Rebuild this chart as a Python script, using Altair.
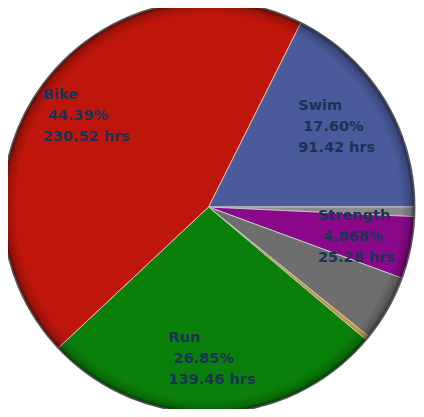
import math
import altair as alt
import pandas as pd

# slices, clockwise starting at Swim
activities = ["Swim", "Other", "Strength", "Brick", "Yoga", "Run", "Bike"]
hours = [91.42, 3.90, 25.28, 27.00, 1.77, 139.46, 230.52]
percents = [17.60, 0.75, 4.868, 5.20, 0.34, 26.85, 44.39]
colors = ["#4b5a9b", "#8a8a8a", "#8b088b", "#6e6e6e", "#c8963c", "#0a800a", "#bf160b"]
labelled = [True, False, True, False, False, True, True]

df = pd.DataFrame({
    "activity": activities,
    "hours": hours,
    "pct": percents,
    "labelled": labelled,
    "idx": range(len(activities)),
})
# zero-width space keeps vega from trimming the indent of the % line
df["label"] = [f"{a}\n\u200b\u00a0{p:#.4g}%\n{h:.2f} hrs" for a, p, h in zip(activities, percents, hours)]
df["hrs_len"] = [len(f"{h:.2f} hrs") for h in hours]

CX, CY, R = 200.5, 199, 206   # pie centre / radius inside the plot area
LR = 152                      # label radius
LH = 21                       # label line height
START = math.radians(26.6)    # where Swim starts

pie = alt.Chart(df).mark_arc(outerRadius=R, stroke="#c4c4c4", strokeWidth=1).encode(
    theta=alt.Theta("hours:Q", stack=True,
                    scale=alt.Scale(range=[START, START + 2 * math.pi])),
    color=alt.Color("activity:N", scale=alt.Scale(domain=activities, range=colors), legend=None),
    order=alt.Order("idx:Q"),
    x=alt.value(CX),
    y=alt.value(CY),
)

# dark rim for the 3d look
shade = alt.Chart(pd.DataFrame({"v": [1]})).mark_arc(
    outerRadius=R + 1,
    theta=0,
    theta2=2 * math.pi,
    fill=alt.Gradient(
        gradient="radial",
        stops=[
            alt.GradientStop(color="rgba(0,0,0,0)", offset=0),
            alt.GradientStop(color="rgba(0,0,0,0)", offset=0.93),
            alt.GradientStop(color="rgba(0,0,0,0.2)", offset=0.975),
            alt.GradientStop(color="rgba(0,0,0,0.65)", offset=1),
        ],
        x1=0.5, y1=0.5, r1=0, x2=0.5, y2=0.5, r2=0.5,
    ),
).encode(x=alt.value(CX), y=alt.value(CY))

labels = alt.Chart(df).transform_window(
    cum="sum(hours)", sort=[alt.SortField("idx")], frame=[None, 0]
).transform_joinaggregate(
    total="sum(hours)"
).transform_filter(
    "datum.labelled"
).transform_calculate(
    ang=f"{START} + 2*PI*(datum.cum - datum.hours/2)/datum.total"
).transform_calculate(
    lx=f"{CX} + {LR}*sin(datum.ang) - datum.hrs_len*4.4",
    ly=f"{CY} - {LR}*cos(datum.ang) - {LH}",
).mark_text(
    align="left", baseline="middle", lineBreak="\n", lineHeight=LH,
    font="DejaVu Sans", fontSize=14.5, fontWeight="bold", color="#1a3355",
).encode(
    x=alt.X("lx:Q", scale=None),
    y=alt.Y("ly:Q", scale=None),
    text="label:N",
)

chart = alt.layer(pie, shade, labels).properties(
    width=408, height=401, padding=0, autosize="none"
).configure_view(stroke=None)

chart.save("out.html", embed_options={"renderer": "svg", "actions": False})
